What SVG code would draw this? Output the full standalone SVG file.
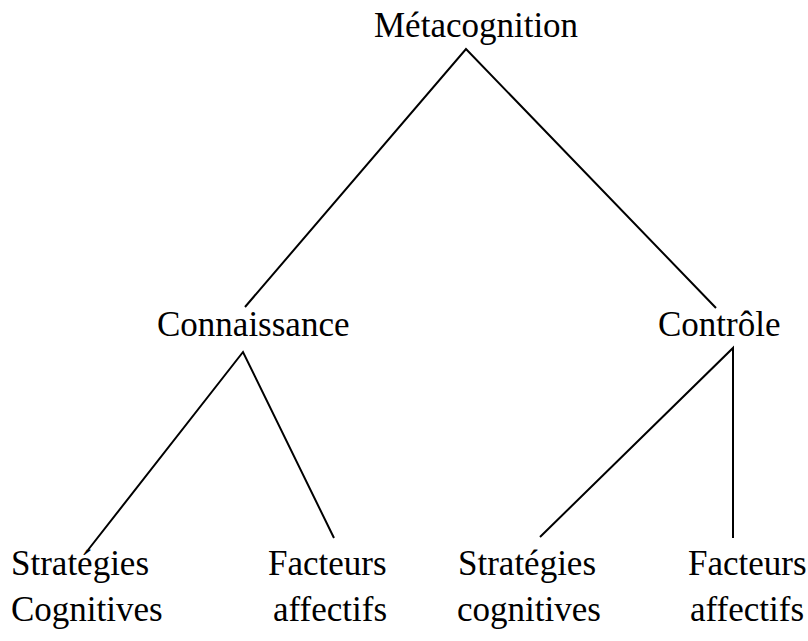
<svg xmlns="http://www.w3.org/2000/svg" width="808" height="641" viewBox="0 0 808 641">
  <style>
    .lbl { font-family: "Liberation Serif", "Times New Roman", serif; font-size: 35px; fill: #000; }
    .edge { stroke: #000; stroke-width: 2; fill: none; }
  </style>
  <rect width="808" height="641" fill="#fff"/>
  <g id="connectors">
    <path class="edge" d="M245,307 L466,49 L716,308"/>
    <path class="edge" d="M88,550 L243,352 L334,538"/>
    <path class="edge" d="M540,537 L733,348 L733,538"/>
  </g>
  <g id="metacognition"><text class="lbl" x="374" y="37">Métacognition</text></g>
  <g id="connaissance"><text class="lbl" x="157" y="336">Connaissance</text></g>
  <g id="controle"><text class="lbl" x="658" y="336">Contrôle</text></g>
  <g id="strategies-cognitives-1">
    <text class="lbl" x="11" y="575">Stratégies</text>
    <text class="lbl" x="11" y="621">Cognitives</text>
  </g>
  <g id="facteurs-affectifs-1">
    <text class="lbl" x="268" y="575">Facteurs</text>
    <text class="lbl" x="273" y="621">affectifs</text>
  </g>
  <g id="strategies-cognitives-2">
    <text class="lbl" x="458" y="575">Stratégies</text>
    <text class="lbl" x="457" y="621">cognitives</text>
  </g>
  <g id="facteurs-affectifs-2">
    <text class="lbl" x="688" y="575">Facteurs</text>
    <text class="lbl" x="690" y="621">affectifs</text>
  </g>
</svg>
